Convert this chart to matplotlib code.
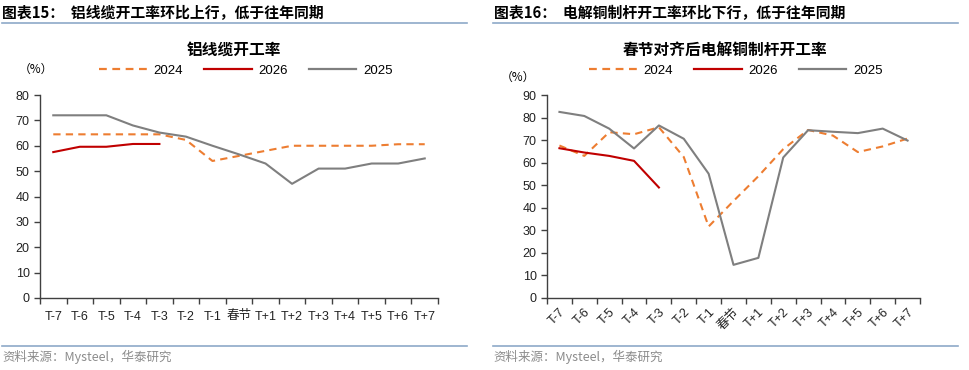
import matplotlib.pyplot as plt
import numpy as np
from matplotlib.lines import Line2D

plt.rcParams['font.family'] = ['Liberation Sans', 'Noto Sans CJK SC']

# categories (aligned to Spring Festival)
cats = ["T-7", "T-6", "T-5", "T-4", "T-3", "T-2", "T-1", "春节",
        "T+1", "T+2", "T+3", "T+4", "T+5", "T+6", "T+7"]

# left: aluminium cable operating rate
al_2024 = [64.5, 64.5, 64.5, 64.5, 64.5, 62.3, 54.0, 56.0, 58.0, 60.0, 60.0, 60.0, 60.0, 60.6, 60.6]
al_2026 = [57.5, 59.6, 59.6, 60.7, 60.7]
al_2025 = [72, 72, 72, 68, 65.2, 63.6, 60, 56.6, 53, 45, 51, 51, 53, 53, 55]

# right: copper rod operating rate
cu_2024 = [67.6, 63.0, 73.5, 72.6, 75.7, 62.5, 31.7, 43.0, 54.0, 66.0, 74.5, 72.0, 64.7, 67.2, 70.7]
cu_2026 = [66.4, 64.5, 63.0, 60.8, 49.0]
cu_2025 = [82.5, 80.7, 75.1, 66.3, 76.5, 70.6, 55.1, 14.7, 17.8, 62.3, 74.4, 73.7, 73.1, 75.1, 69.8]

ORANGE = "#ED7D31"
RED = "#C00000"
GRAY = "#7F7F7F"
AXC = "#404040"

W, H = 969, 370
fig = plt.figure(figsize=(W / 100, H / 100), dpi=100)


def fx(px):
    return px / W


def fy(py):
    return 1 - py / H


def draw(rect, s24, s26, s25, ymax, rotate):
    ax = fig.add_axes(rect)
    x = np.arange(len(cats))
    ax.plot(x, s24, color=ORANGE, lw=1.5, ls=(0, (3.5, 2.5)))
    ax.plot(x[:len(s26)], s26, color=RED, lw=1.5)
    ax.plot(x, s25, color=GRAY, lw=1.5)
    ax.set_xlim(-0.5, len(cats) - 0.5)
    ax.set_ylim(0, ymax)
    ax.set_yticks(np.arange(0, ymax + 1, 10))
    ax.set_xticks(x)
    ax.set_xticks(np.arange(-0.5, len(cats)), minor=True)
    ax.tick_params(axis="x", which="major", length=0, pad=9, labelsize=9, colors="#222222")
    ax.tick_params(axis="x", which="minor", length=4, width=1, color=AXC)
    ax.tick_params(axis="y", length=4, width=1, color=AXC, labelsize=9, labelcolor="#222222")
    if rotate:
        ax.set_xticklabels(cats, rotation=45, ha="right", va="top", rotation_mode="anchor")
        ax.tick_params(axis="x", which="major", pad=6)
    else:
        ax.set_xticklabels(cats)
    for s in ["top", "right"]:
        ax.spines[s].set_visible(False)
    for s in ["left", "bottom"]:
        ax.spines[s].set_color(AXC)
        ax.spines[s].set_linewidth(1)
    return ax


draw([fx(40), fy(298), fx(438 - 40), (298 - 95) / H], al_2024, al_2026, al_2025, 80, False)
draw([fx(547), fy(298), fx(920 - 547), (298 - 95) / H], cu_2024, cu_2026, cu_2025, 90, True)

handles = [Line2D([], [], color=ORANGE, lw=1.6, ls=(0, (3.5, 2.5))),
           Line2D([], [], color=RED, lw=1.6),
           Line2D([], [], color=GRAY, lw=1.6)]
labels = ["2024", "2026", "2025"]
for cx in (246, 736):
    fig.legend(handles, labels, loc="center", bbox_to_anchor=(fx(cx), fy(71)), ncol=3,
               frameon=False, fontsize=9.5, handlelength=3.6, handletextpad=0.5,
               columnspacing=1.6)

cjk = ["Noto Sans CJK SC", "DejaVu Sans"]
fig.text(fx(234), fy(50), "铝线缆开工率", ha="center", va="center", fontsize=11.3,
         fontweight="bold", family=cjk)
fig.text(fx(725), fy(50), "春节对齐后电解铜制杆开工率", ha="center", va="center", fontsize=11.3,
         fontweight="bold", family=cjk)
fig.text(fx(36), fy(69), "（%）", ha="center", va="center", fontsize=8.5, family=cjk)
fig.text(fx(518), fy(77), "（%）", ha="center", va="center", fontsize=8.5, family=cjk)

fig.text(fx(2), fy(13), "图表15：  铝线缆开工率环比上行，低于往年同期", ha="left", va="center",
         fontsize=10.7, fontweight="bold", family=cjk)
fig.text(fx(494), fy(13), "图表16：  电解铜制杆开工率环比下行，低于往年同期", ha="left", va="center",
         fontsize=10.7, fontweight="bold", family=cjk)

LINE = "#8EA9C8"
for x0, x1 in ((2, 467), (493, 958)):
    fig.add_artist(Line2D([fx(x0), fx(x1)], [fy(22.5), fy(22.5)], color=LINE, lw=1.2))
    fig.add_artist(Line2D([fx(x0), fx(x1)], [fy(346), fy(346)], color=LINE, lw=1.2))
    fig.text(fx(x0), fy(357), "资料来源：Mysteel，华泰研究", ha="left", va="center",
             fontsize=9, color="#8C8C8C", family=cjk)

fig.savefig("out.png", dpi=100)
